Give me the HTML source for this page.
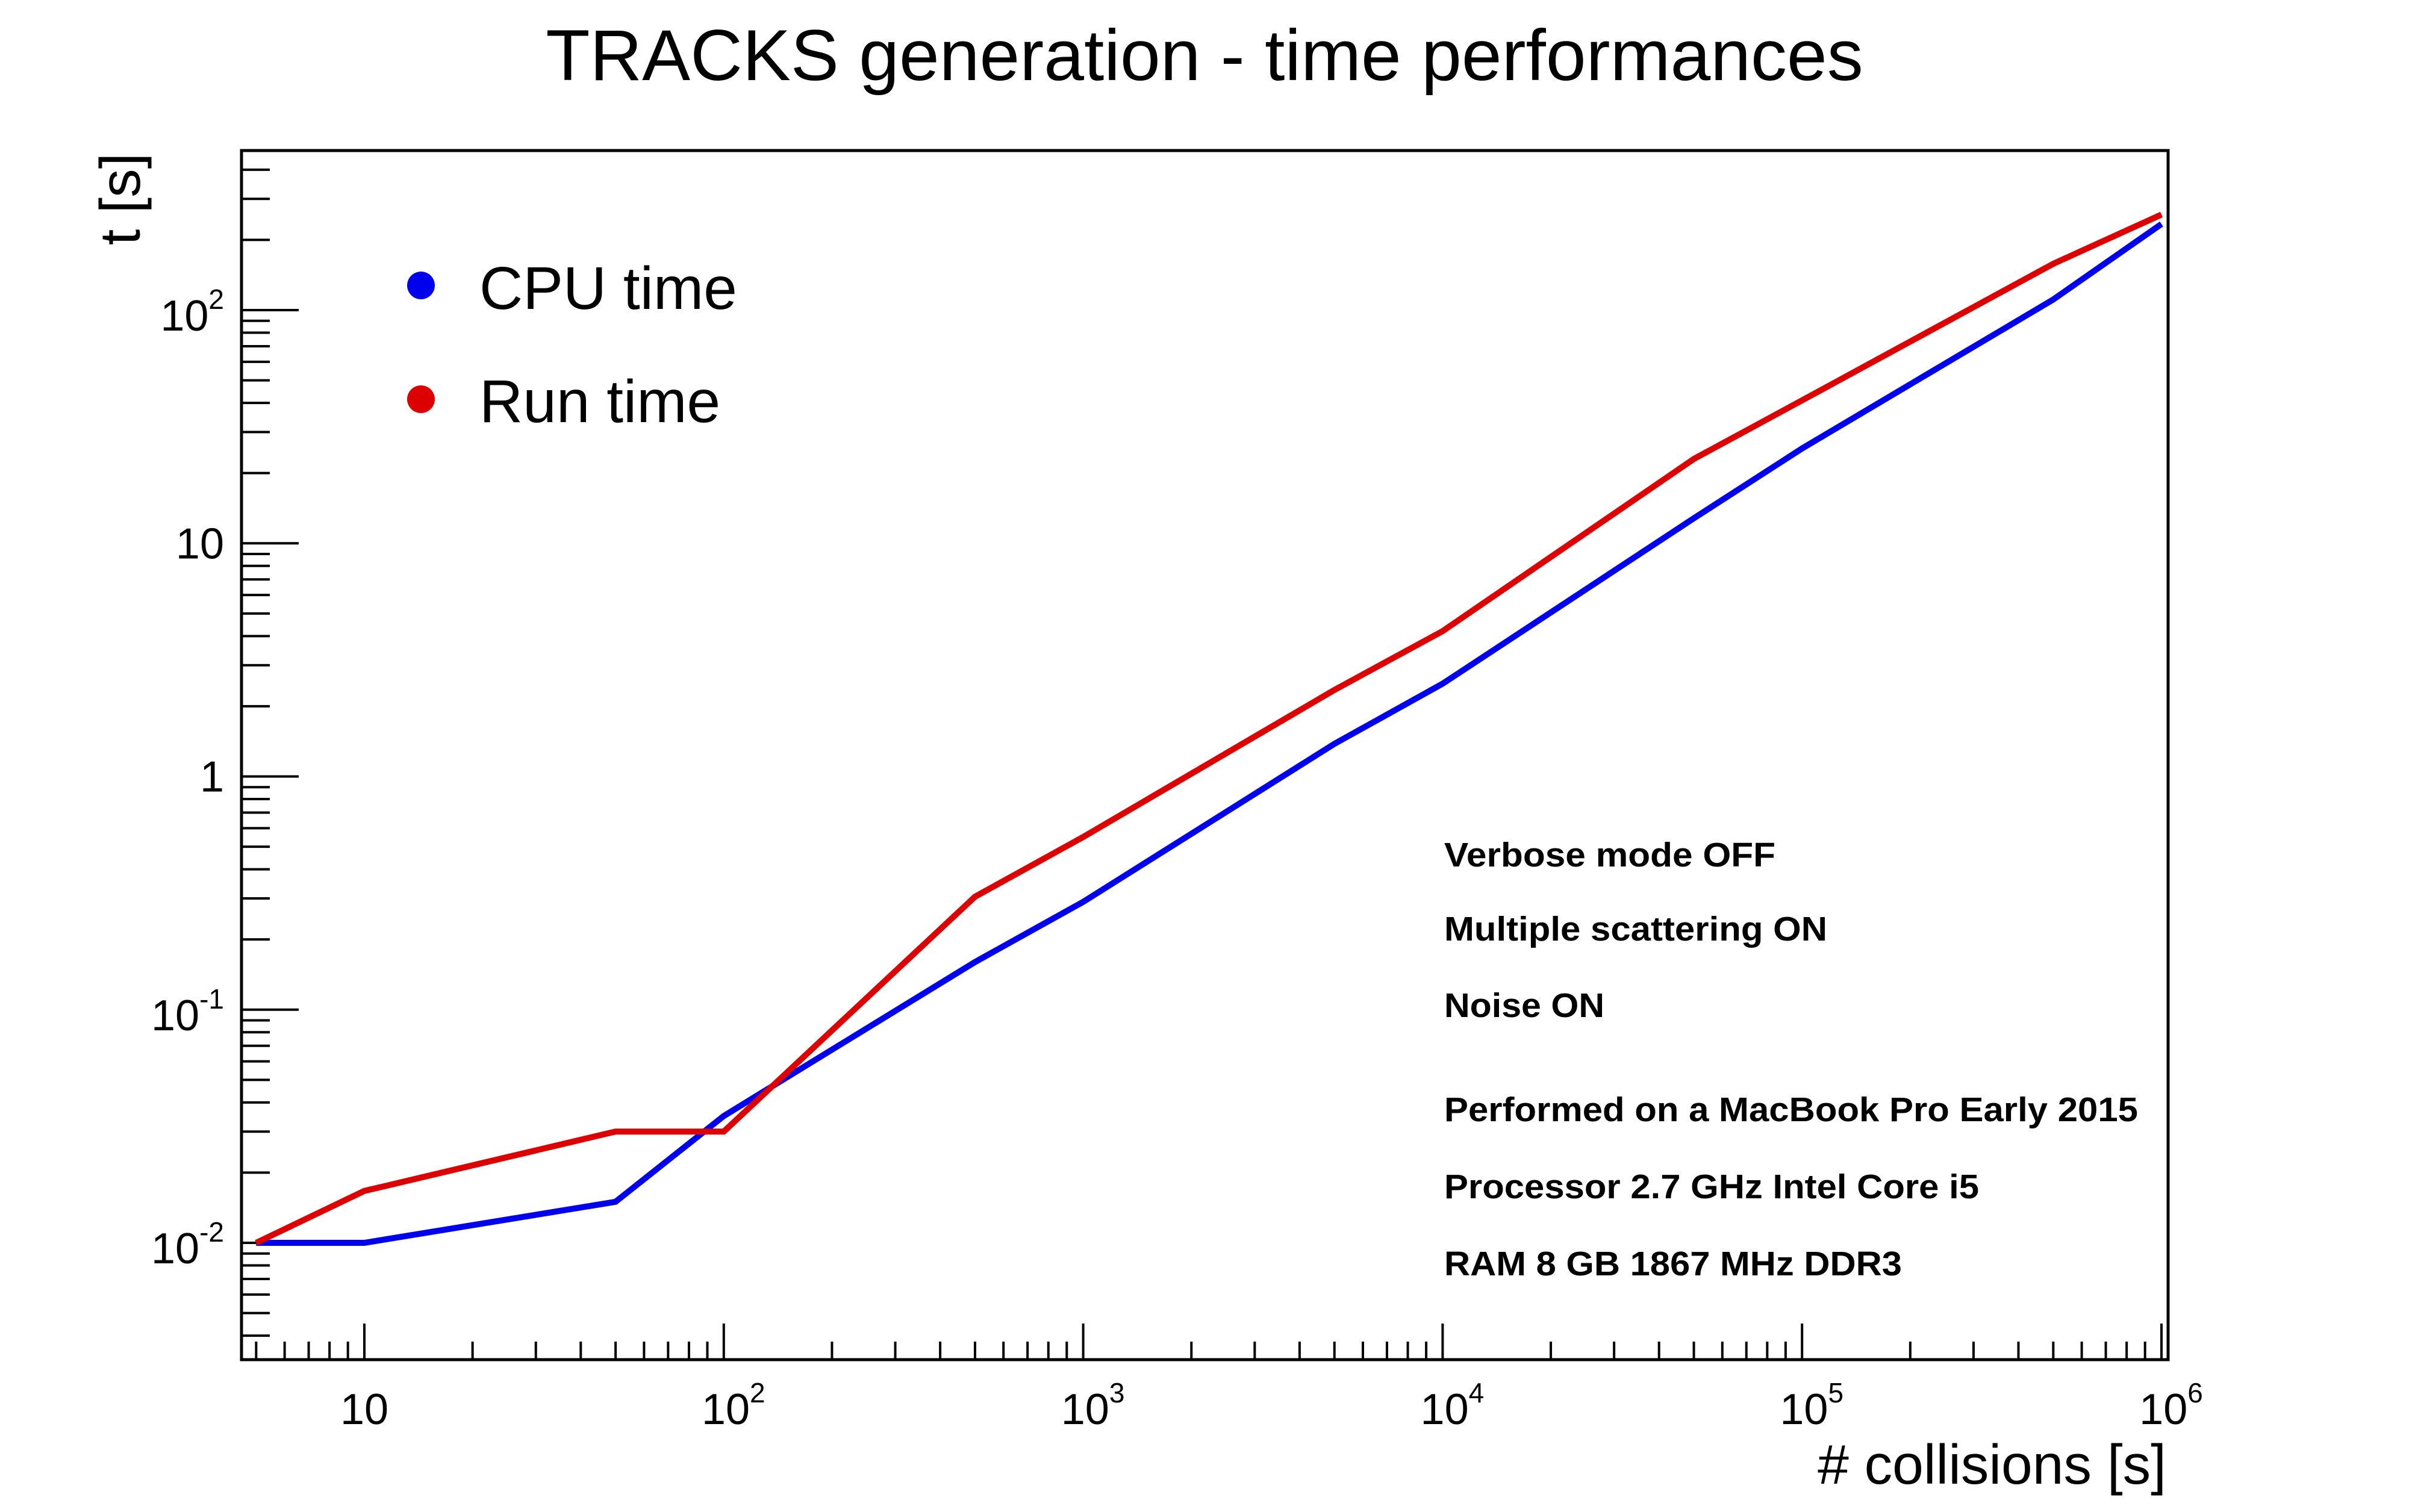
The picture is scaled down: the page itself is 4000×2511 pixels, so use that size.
<!DOCTYPE html>
<html><head><meta charset="utf-8"><style>html,body{margin:0;padding:0;background:#fff}svg{display:block}text{font-family:"Liberation Sans",sans-serif}</style></head>
<body>
<svg id="chart" width="4000" height="2511" viewBox="0 0 4000 2511" xmlns="http://www.w3.org/2000/svg">
<rect width="4000" height="2511" fill="#fff"/>
<text x="2000" y="133" font-size="120" text-anchor="middle">TRACKS generation - time performances</text>
<g id="ticks"></g>
<g id="series"></g>
<rect x="401" y="250" width="3199" height="2008" fill="none" stroke="#000" stroke-width="5"/>
<text transform="translate(232,254) rotate(-90)" font-size="95" text-anchor="end">t [s]</text>
<text x="3597" y="2464" font-size="93" text-anchor="end"># collisions [s]</text>
<g>
<circle cx="699" cy="474" r="23" fill="#0000ee"/>
<text x="796" y="513" font-size="100">CPU time</text>
<circle cx="699" cy="663" r="23" fill="#dd0000"/>
<text x="796" y="701" font-size="100">Run time</text>
</g>
<g font-weight="bold" font-size="57">
<text x="2398" y="1439" textLength="550" lengthAdjust="spacingAndGlyphs">Verbose mode OFF</text>
<text x="2398" y="1562" textLength="636" lengthAdjust="spacingAndGlyphs">Multiple scattering ON</text>
<text x="2398" y="1689" textLength="266" lengthAdjust="spacingAndGlyphs">Noise ON</text>
<text x="2398" y="1862" textLength="1152" lengthAdjust="spacingAndGlyphs">Performed on a MacBook Pro Early 2015</text>
<text x="2398" y="1990" textLength="888" lengthAdjust="spacingAndGlyphs">Processor 2.7 GHz Intel Core i5</text>
<text x="2398" y="2118" textLength="760" lengthAdjust="spacingAndGlyphs">RAM 8 GB 1867 MHz DDR3</text>
</g>
</svg>
<script>
const collisions = [5,10,50,100,500,1000,5000,10000,50000,100000,500000,1000000];
const cpuTime = [0.01,0.01,0.015,0.035,0.16,0.29,1.38,2.5,12.8,25.5,111,234];
const runTime = [0.01,0.0167,0.030,0.030,0.305,0.55,2.35,4.2,23,41,158,257];
const xTickLabels = ["10","10^2","10^3","10^4","10^5","10^6"];
const xTickValues = [10,100,1000,10000,100000,1000000];
const yTickLabels = ["10^-2","10^-1","1","10","10^2"];
const yTickValues = [0.01,0.1,1,10,100];

const NS="http://www.w3.org/2000/svg";
const L=401,R=3600,T=250,B=2258;
function xs(v){return 605+(Math.log10(v)-1)*596.8;}
function ys(v){return 2064-(Math.log10(v)+2)*387.25;}
function mk(tag,attrs,parent){const e=document.createElementNS(NS,tag);for(const k in attrs)e.setAttribute(k,attrs[k]);parent.appendChild(e);return e;}
const tg=document.getElementById('ticks');
for(let d=0;d<=6;d++){for(let m=1;m<=9;m++){const v=m*Math.pow(10,d);const x=xs(v);if(x<L+2||x>R-2)continue;
 const len=m===1?60:30;
 const t=mk('line',{x1:x,x2:x,y1:B,y2:B-len,stroke:'#000','stroke-width':4},tg);
 
 }}
for(let d=-3;d<=3;d++){for(let m=1;m<=9;m++){const v=m*Math.pow(10,d);const y=ys(v);if(y<T+2||y>B-2)continue;
 const len=m===1?95:47;
 const t=mk('line',{x1:L,x2:L+len,y1:y,y2:y,stroke:'#000','stroke-width':4},tg);
 
 }}
function label(str,x,y,anchor){
 const t=mk('text',{x:x,y:y,'font-size':72,'text-anchor':anchor},tg);
 const p=str.split('^');
 t.appendChild(document.createTextNode(p[0]));
 if(p[1]){const s=mk('tspan',{'font-size':46,dy:-36},t);s.textContent=p[1];}
 return t;}
xTickLabels.forEach((s,i)=>{const hasExp=s.includes('^');const t=label(s,xs(xTickValues[i])+(hasExp?16:0),2365,'middle');
 
 });
yTickLabels.forEach((s,i)=>{const t=label(s,372,ys(yTickValues[i])+(s.includes('^')?34:25),'end');
 
 });
const sg=document.getElementById('series');
function line(vals,color,name){const pts=collisions.map((c,i)=>xs(c).toFixed(1)+','+ys(vals[i]).toFixed(1)).join(' ');
 const p=mk('polyline',{points:pts,fill:'none',stroke:color,'stroke-width':10,'stroke-linejoin':'miter'},sg);
 
 }
line(cpuTime,'#0000ee','cpu-time-line');
line(runTime,'#dd0000','run-time-line');
</script>
</body></html>
